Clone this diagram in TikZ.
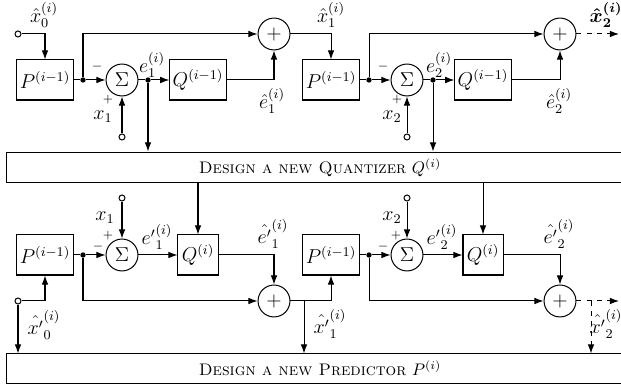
\documentclass[tikz,border=0pt]{standalone}
\usepackage{amsmath}
\usetikzlibrary{arrows.meta}

\tikzset{
  block/.style={draw, minimum width=1.18cm, minimum height=0.84cm, inner sep=1pt, font=\large},
  qblock/.style={draw, minimum width=0.84cm, minimum height=0.84cm, inner sep=1pt, font=\large},
  sumnode/.style={draw, circle, minimum size=0.67cm, inner sep=0pt, font=\large},
  dot/.style={circle, fill, inner sep=0pt, minimum size=3.2pt},
  port/.style={circle, draw, inner sep=0pt, minimum size=3.6pt},
  design/.style={draw, minimum width=13.15cm, inner sep=0pt},
  lbl/.style={font=\large, inner sep=0pt},
  sgn/.style={font=\scriptsize, inner sep=0pt},
}

\begin{document}
\begin{tikzpicture}[x=0.021cm, y=-0.021cm, >={Latex[length=5.5pt,width=4pt]}, semithick]
    \useasboundingbox (0,0) rectangle (621,389);
    \clip (0,0) rectangle (621,389);

    % first pass: old predictor and quantizer
    \node[port] (in0) at (18,34) {};
    \node[block] (p1) at (45,80) {$P^{(i-1)}$};
    \node[dot] (d1) at (83,80) {};
    \node[sumnode] (s1) at (122,80) {$\Sigma$};
    \node[port] (in1) at (122,137) {};
    \node[dot] (d2) at (148,80) {};
    \node[block] (q1) at (198,80) {$Q^{(i-1)}$};
    \node[sumnode] (a1) at (274,34) {$+$};

    \node[block] (p2) at (331,80) {$P^{(i-1)}$};
    \node[dot] (d3) at (369,80) {};
    \node[sumnode] (s2) at (407,80) {$\Sigma$};
    \node[port] (in2) at (407,137) {};
    \node[dot] (d4) at (433,80) {};
    \node[block] (q2) at (483,80) {$Q^{(i-1)}$};
    \node[sumnode] (a2) at (560,34) {$+$};
    \coordinate (out2) at (619,34);

    % design boxes
    \node[design, minimum height=0.65cm] (qd) at (320,167.5) {\textsc{Design a new Quantizer} $Q^{(i)}$};
    \node[design, minimum height=0.61cm] (pd) at (320,368.5) {\textsc{Design a new Predictor} $P^{(i)}$};

    % second pass: new quantizer
    \node[port] (in3) at (18,301) {};
    \node[block] (p3) at (45,255) {$P^{(i-1)}$};
    \node[dot] (d5) at (83,255) {};
    \node[sumnode] (s3) at (122,255) {$\Sigma$};
    \node[port] (in4) at (122,198) {};
    \node[qblock] (q3) at (198,255) {$Q^{(i)}$};
    \node[sumnode] (a3) at (274,301) {$+$};
    \coordinate (b3) at (304,301);

    \node[block] (p4) at (331,255) {$P^{(i-1)}$};
    \node[dot] (d6) at (369,255) {};
    \node[sumnode] (s4) at (407,255) {$\Sigma$};
    \node[port] (in5) at (407,198) {};
    \node[qblock] (q4) at (483,255) {$Q^{(i)}$};
    \node[sumnode] (a4) at (560,301) {$+$};
    \coordinate (b4) at (591,301);
    \coordinate (out4) at (619,301);

    % connections, first pass
    \draw[->] (in0) -| (p1);
    \draw (p1) -- (d1);
    \draw[->] (d1) -- (s1);
    \draw[->] (d1) |- (a1);
    \draw[->] (in1) -- (s1);
    \draw (s1) -- (d2);
    \draw[->] (d2) -- (q1);
    \draw[->] (d2) -- (d2 |- qd.north);
    \draw[->] (q1) -| (a1);
    \draw[->] (a1) -| (p2);
    \draw (p2) -- (d3);
    \draw[->] (d3) -- (s2);
    \draw[->] (d3) |- (a2);
    \draw[->] (in2) -- (s2);
    \draw (s2) -- (d4);
    \draw[->] (d4) -- (q2);
    \draw[->] (d4) -- (d4 |- qd.north);
    \draw[->] (q2) -| (a2);
    \draw[->, dashed] (a2) -- (out2);

    % connections, second pass
    \draw[->] (q3 |- qd.south) -- (q3);
    \draw[->] (q4 |- qd.south) -- (q4);
    \draw[->] (in3) -| (p3);
    \draw[->] (in3) -- (in3 |- pd.north);
    \draw (p3) -- (d5);
    \draw[->] (d5) -- (s3);
    \draw[->] (in4) -- (s3);
    \draw[->] (s3) -- (q3);
    \draw[->] (q3) -| (a3);
    \draw[->] (d5) |- (a3);
    \draw[->] (a3) -| (p4);
    \draw[->] (b3) -- (b3 |- pd.north);
    \draw (p4) -- (d6);
    \draw[->] (d6) -- (s4);
    \draw[->] (in5) -- (s4);
    \draw[->] (s4) -- (q4);
    \draw[->] (q4) -| (a4);
    \draw[->] (d6) |- (a4);
    \draw[->, dashed] (a4) -- (out4);
    \draw[->, dashed] (b4) -- (b4 |- pd.north);

    % labels
    \node[lbl] (lx0) at (44,15) {$\hat{x}_0^{(i)}$};
    \node[sgn] (lm1) at (97,67) {$-$};
    \node[sgn] (lp1) at (108,100) {$+$};
    \node[lbl] (lxa) at (103,117) {$x_1$};
    \node[lbl] (le1) at (152,65) {$e_1^{(i)}$};
    \node[lbl] (lh1) at (272,101) {$\hat{e}_1^{(i)}$};
    \node[lbl] (lx1) at (331,15) {$\hat{x}_1^{(i)}$};
    \node[sgn] (lm2) at (383,67) {$-$};
    \node[sgn] (lp2) at (397,100) {$+$};
    \node[lbl] (lxb) at (392,117) {$x_2$};
    \node[lbl] (le2) at (439,65) {$e_2^{(i)}$};
    \node[lbl] (lh2) at (559,101) {$\hat{e}_2^{(i)}$};
    \node[lbl] (lx2) at (606,15) {$\boldsymbol{\hat{x}_2^{(i)}}$};

    \node[lbl] (lxc) at (105,218) {$x_1$};
    \node[sgn] (lp3) at (108,236) {$+$};
    \node[sgn] (lm3) at (98,247) {$-$};
    \node[lbl] (le3) at (157,237) {${e'}_1^{(i)}$};
    \node[lbl] (lh3) at (273,234) {$\hat{e'}_1^{(i)}$};
    \node[lbl] (lx3) at (44,325) {$\hat{x'}_0^{(i)}$};
    \node[lbl] (lxd) at (392,218) {$x_2$};
    \node[sgn] (lp4) at (396,236) {$+$};
    \node[sgn] (lm4) at (383,247) {$-$};
    \node[lbl] (le4) at (442,237) {${e'}_2^{(i)}$};
    \node[lbl] (lh4) at (559,234) {$\hat{e'}_2^{(i)}$};
    \node[lbl] (lx4) at (330,324) {$\hat{x'}_1^{(i)}$};
    \node[lbl] (lx5) at (606,324) {$\hat{x'}_2^{(i)}$};
\end{tikzpicture}
\end{document}
